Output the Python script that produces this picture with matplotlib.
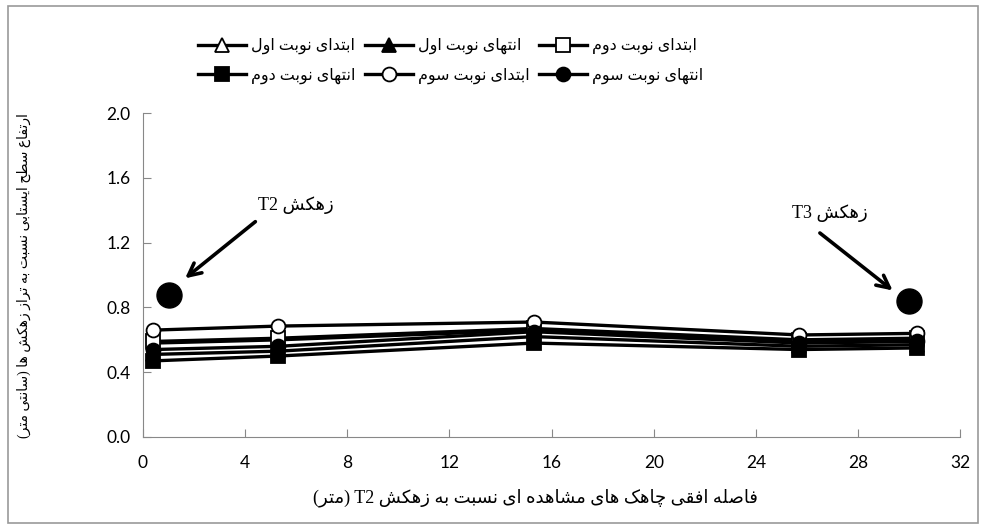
import matplotlib
matplotlib.use("Agg")
import matplotlib.pyplot as plt
from matplotlib.patches import Rectangle

# Données
x = [0.4, 5.3, 15.3, 25.7, 30.3]
debut_1 = [0.58, 0.60, 0.66, 0.59, 0.60]
fin_1 = [0.51, 0.53, 0.62, 0.56, 0.57]
debut_2 = [0.59, 0.61, 0.67, 0.60, 0.61]
fin_2 = [0.47, 0.50, 0.58, 0.54, 0.55]
debut_3 = [0.66, 0.685, 0.71, 0.63, 0.64]
fin_3 = [0.54, 0.56, 0.65, 0.58, 0.59]
drain_x = [1.0, 30.0]
drain_y = [0.88, 0.84]

labels = ["ابتدای نوبت اول", "انتهای نوبت اول", "ابتدای نوبت دوم",
          "انتهای نوبت دوم", "ابتدای نوبت سوم", "انتهای نوبت سوم"]
xlabel = "فاصله افقی چاهک های مشاهده ای نسبت به زهکش T2 (متر)"
ylabel = "ارتفاع سطح ایستابی نسبت به تراز زهکش ها (سانتی متر)"
note_t2 = "زهکش T2"
note_t3 = "زهکش T3"

# Formes contextuelles (isolée, finale, initiale, médiane)
FORMS = {
    'ا': (0xFE8D, 0xFE8E, None, None),
    'ب': (0xFE8F, 0xFE90, 0xFE91, 0xFE92),
    'ت': (0xFE95, 0xFE96, 0xFE97, 0xFE98),
    'ح': (0xFEA1, 0xFEA2, 0xFEA3, 0xFEA4),
    'د': (0xFEA9, 0xFEAA, None, None),
    'ر': (0xFEAD, 0xFEAE, None, None),
    'ز': (0xFEAF, 0xFEB0, None, None),
    'س': (0xFEB1, 0xFEB2, 0xFEB3, 0xFEB4),
    'ش': (0xFEB5, 0xFEB6, 0xFEB7, 0xFEB8),
    'ص': (0xFEB9, 0xFEBA, 0xFEBB, 0xFEBC),
    'ط': (0xFEC1, 0xFEC2, 0xFEC3, 0xFEC4),
    'ع': (0xFEC9, 0xFECA, 0xFECB, 0xFECC),
    'ف': (0xFED1, 0xFED2, 0xFED3, 0xFED4),
    'ق': (0xFED5, 0xFED6, 0xFED7, 0xFED8),
    'ل': (0xFEDD, 0xFEDE, 0xFEDF, 0xFEE0),
    'م': (0xFEE1, 0xFEE2, 0xFEE3, 0xFEE4),
    'ن': (0xFEE5, 0xFEE6, 0xFEE7, 0xFEE8),
    'ه': (0xFEE9, 0xFEEA, 0xFEEB, 0xFEEC),
    'و': (0xFEED, 0xFEEE, None, None),
    'ی': (0xFBFC, 0xFBFD, 0xFBFE, 0xFBFF),
    'ک': (0xFB8E, 0xFB8F, 0xFB90, 0xFB91),
    'چ': (0xFB7A, 0xFB7B, 0xFB7C, 0xFB7D),
}


def shape_word(w):
    out = []
    for i, ch in enumerate(w):
        if ch not in FORMS:
            out.append(ch)
            continue
        prev = w[i - 1] if i > 0 else None
        nxt = w[i + 1] if i < len(w) - 1 else None
        jp = prev in FORMS and FORMS[prev][2] is not None
        jn = FORMS[ch][2] is not None and nxt in FORMS
        iso, fin, ini, med = FORMS[ch]
        if jp and jn:
            c = med
        elif jp:
            c = fin
        elif jn:
            c = ini
        else:
            c = iso
        out.append(chr(c))
    return ''.join(out)


def fa(text):
    vis = []
    for w in text.split(' '):
        if any(ch in FORMS for ch in w):
            s = shape_word(w)[::-1]
            vis.append(s.translate(str.maketrans('()', ')(')))
        else:
            vis.append(w)
    return ' '.join(vis[::-1])


FA_FONT = ['Liberation Serif', 'DejaVu Sans']
plt.rcParams['font.family'] = ['Lato', 'DejaVu Sans']

fig = plt.figure(figsize=(9.86, 5.29), dpi=100)
ax = fig.add_axes([0.145, 0.174, 0.829, 0.612])

series = [debut_1, fin_1, debut_2, fin_2, debut_3, fin_3]
markers = ['^', '^', 's', 's', 'o', 'o']
fills = ['white', 'black', 'white', 'black', 'white', 'black']
handles = []
for y, m, f, lab in zip(series, markers, fills, labels):
    h, = ax.plot(x, y, color='black', lw=2.4, marker=m, markersize=10,
                 markerfacecolor=f, markeredgecolor='black', markeredgewidth=1.3,
                 label=fa(lab))
    handles.append(h)

ax.plot(drain_x, drain_y, linestyle='none', marker='o', markersize=18,
        color='black')

# flèches et textes des drains
arrow = dict(arrowstyle='->, head_length=0.9, head_width=0.45',
             lw=2.6, color='black', shrinkA=0, shrinkB=0)
ax.annotate('', xy=(1.65, 0.98), xytext=(4.4, 1.33), arrowprops=arrow)
ax.annotate('', xy=(29.35, 0.905), xytext=(26.5, 1.26), arrowprops=arrow)
ax.text(6.0, 1.43, fa(note_t2), family=FA_FONT, fontsize=13, ha='center', va='center')
ax.text(26.9, 1.38, fa(note_t3), family=FA_FONT, fontsize=13, ha='center', va='center')

ax.set_xlim(0, 32)
ax.set_ylim(0, 2.0)
ax.set_xticks(range(0, 33, 4))
ax.set_yticks([0.0, 0.4, 0.8, 1.2, 1.6, 2.0])
ax.set_yticklabels([f"{v:.1f}" for v in [0.0, 0.4, 0.8, 1.2, 1.6, 2.0]])
ax.tick_params(direction='in', length=6, color='#888888', labelsize=12.5)
ax.tick_params(axis='x', pad=13)
ax.tick_params(axis='y', pad=9)
for s in ['top', 'right']:
    ax.spines[s].set_visible(False)
for s in ['left', 'bottom']:
    ax.spines[s].set_color('#888888')

ax.set_xlabel(fa(xlabel), family=FA_FONT, fontsize=13)
ax.xaxis.set_label_coords(0.48, -0.16)
ax.set_ylabel(fa(ylabel), family=FA_FONT, fontsize=10)
ax.yaxis.set_label_coords(-0.137, 0.5)

# ordre ligne par ligne pour une légende sur 3 colonnes
order = [0, 3, 1, 4, 2, 5]
leg = fig.legend([handles[i] for i in order], [handles[i].get_label() for i in order],
                 ncol=3, loc='center', bbox_to_anchor=(0.457, 0.885), frameon=False,
                 prop={'family': FA_FONT, 'size': 11.5}, handlelength=3.0,
                 handletextpad=0.3, columnspacing=0.6, labelspacing=0.8)

fig.patches.append(Rectangle((0.008, 0.012), 0.984, 0.976, transform=fig.transFigure,
                             fill=False, edgecolor='#999999', lw=1.2))

plt.savefig("out.png", dpi=100)
